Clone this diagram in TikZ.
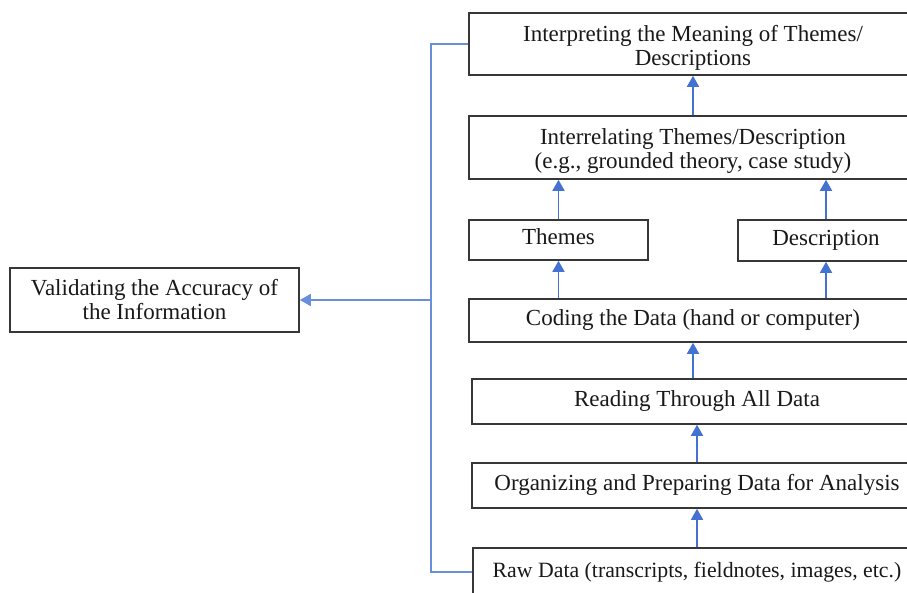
\documentclass[tikz,border=0pt]{standalone}
\usepackage{fontspec}
\setmainfont{Liberation Serif}
\usetikzlibrary{arrows.meta}
\definecolor{flow}{RGB}{68,114,210}
\definecolor{edge}{RGB}{55,55,55}
\newcommand{\upstrut}{\rule{0pt}{23pt}}
\tikzset{
  box/.style={draw=edge, line width=1.6pt, fill=white, align=center, inner sep=0pt,
    font=\fontsize{23}{24}\selectfont, text=black!90},
  one/.style={text height=15pt, text depth=5pt},
  arr/.style={draw=flow, line width=1.6pt, -{Triangle[length=11pt,width=12pt]}},
  feed/.style={draw=flow!80, line width=1.4pt}
}
\begin{document}
\begin{tikzpicture}[x=1pt,y=-1pt]
\useasboundingbox (0,0) rectangle (907,593);
\begin{scope}
\clip (0,0) rectangle (907,593);
\node[box, minimum width=448pt, minimum height=62pt] (interp) at (693,44) {\upstrut Interpreting the Meaning of Themes/\\Descriptions};
\node[box, minimum width=448pt, minimum height=63pt] (interrel) at (693,147.5) {\upstrut Interrelating Themes/Description\\(e.g., grounded theory, case study)};
\node[box, one, minimum width=179pt, minimum height=40pt] (themes) at (558.5,240) {Themes};
\node[box, one, minimum width=176pt, minimum height=41pt] (desc) at (826,240.5) {Description};
\node[box, one, minimum width=448pt, minimum height=43pt] (coding) at (693,320.5) {Coding the Data (hand or computer)};
\node[box, one, minimum width=450pt, minimum height=45pt] (reading) at (697,401.5) {Reading Through All Data};
\node[box, one, minimum width=450pt, minimum height=45pt] (organ) at (697,485.5) {Organizing and Preparing Data for Analysis};
\node[box, one, minimum width=448pt, minimum height=48pt, font=\fontsize{21.8}{24}\selectfont] (raw) at (697,572) {Raw Data (transcripts, fieldnotes, images, etc.)};
\node[box, minimum width=289pt, minimum height=64pt] (valid) at (154.5,300) {Validating the Accuracy of\\the Information};
\coordinate (trunk) at (431,300);

\draw[arr] (interrel.north) -- (interp.south);
\draw[arr] (themes.north) -- (themes.north |- interrel.south);
\draw[arr] (desc.north) -- (desc.north |- interrel.south);
\draw[arr] (coding.north -| themes) -- (themes.south);
\draw[arr] (coding.north -| desc) -- (desc.south);
\draw[arr] (reading.north -| coding) -- (coding.south);
\draw[arr] (organ.north) -- (reading.south);
\draw[arr] (raw.north -| organ) -- (organ.south);
\draw[feed] (raw.west) -- (raw.west -| trunk) |- (interp.west);
\draw[arr, draw=flow!80] (trunk) -- (valid.east);
\end{scope}
\end{tikzpicture}
\end{document}
